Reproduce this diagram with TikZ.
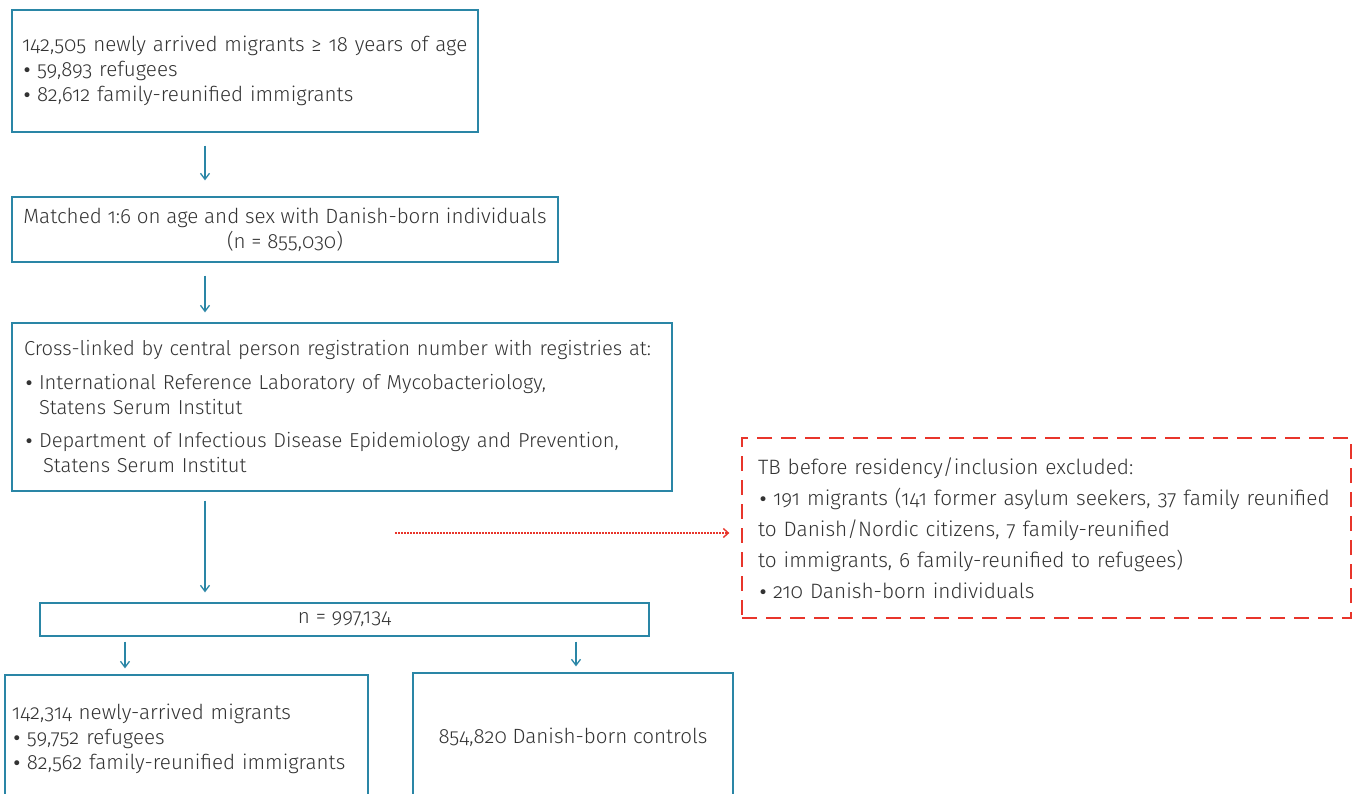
\documentclass[tikz,border=0pt]{standalone}
\usepackage{fontspec}
\setmainfont{Fira Sans Light}[Numbers=OldStyle]
\newfontfamily\djv{DejaVu Sans}
\usetikzlibrary{arrows.meta}
\definecolor{teal1}{HTML}{2A86A6}
\definecolor{red1}{HTML}{E8352B}
\definecolor{txt}{HTML}{333333}
\tikzset{
  box/.style={draw=teal1, line width=1.3pt, rectangle, text=txt, font=\fontsize{20.6}{25}\selectfont},
  redbox/.style={draw=red1, line width=1.3pt, dash pattern=on 15pt off 9pt, rectangle, text=txt, font=\fontsize{20.8}{31}\selectfont},
  arr/.style={draw=teal1, line width=1.3pt, -{Straight Barb[length=6pt,width=9pt,line width=1.3pt]}},
  redarr/.style={draw=red1, line width=1.2pt, dash pattern=on 2pt off 1pt, -{Straight Barb[length=5pt,width=9pt,line width=1.4pt]}}
}
\newcommand{\bul}{\makebox[15pt][l]{{\djv\fontsize{17}{0}\selectfont\char"2022}}}
\begin{document}
\begin{tikzpicture}[x=1pt,y=-1pt]
\useasboundingbox (0,0) rectangle (1355,794);
\clip (0,0) rectangle (1355,794);
\node[box, minimum width=466pt, minimum height=122pt, text width=446pt, inner xsep=10pt, align=left] (b1) at (245,71)
 {142,505 newly arrived migrants ≥ 18 years of age\\ \bul 59,893 refugees\\ \bul 82,612 family-reunified immigrants};
\node[box, minimum width=546pt, minimum height=65pt, align=center] (b2) at (285,229.5)
 {Matched 1:6 on age and sex with Danish-born individuals\\(n = 855,030)};
\node[box, font=\fontsize{20.2}{25}\selectfont, minimum width=660pt, minimum height=168pt, text width=636pt, inner xsep=12pt, align=left] (b3) at (342,407)
 {Cross-linked by central person registration number with registries at:\\[9pt]
  \bul International Reference Laboratory of Mycobacteriology,\\ \hspace*{15pt}Statens Serum Institut\\[8pt]
  \bul Department of Infectious Disease Epidemiology and Prevention,\\ \hspace*{19pt}Statens Serum Institut};
\node[box, minimum width=609pt, minimum height=33pt] (b4) at (344.5,619.5) {n = 997,134};
\node[box, minimum width=363pt, minimum height=128pt, text width=349pt, inner xsep=7pt, align=left] (b5) at (186.5,739)
 {142,314 newly-arrived migrants\\ \bul 59,752 refugees\\ \bul 82,562 family-reunified immigrants};
\node[box, minimum width=320pt, minimum height=128pt, align=center] (b6) at (573,737) {854,820 Danish-born controls};
\node[redbox, minimum width=609pt, minimum height=180pt, text width=577pt, inner xsep=16pt, align=left] (r) at (1046.5,528)
 {TB before residency/inclusion excluded:\\
  \bul 191 migrants (141 former asylum seekers, 37 family reunified\\
  to Danish/Nordic citizens, 7 family-reunified\\
  to immigrants, 6 family-reunified to refugees)\\
  \bul 210 Danish-born individuals};
\draw[arr, shorten <=13pt, shorten >=16pt] (205,0 |- b1.south) -- (205,0 |- b2.north);
\draw[arr, shorten <=13pt, shorten >=10pt] (205,0 |- b2.south) -- (205,0 |- b3.north);
\draw[arr, shorten <=9pt, shorten >=10pt] (205,0 |- b3.south) -- (205,0 |- b4.north);
\draw[arr, shorten <=5pt, shorten >=6pt] (125,0 |- b4.south) -- (125,0 |- b5.north);
\draw[arr, shorten <=5pt, shorten >=6pt] (576,0 |- b4.south) -- (576,0 |- b6.north);
\coordinate (rs) at (395,533);
\draw[redarr, shorten >=12pt] (rs) -- (rs -| r.west);
\end{tikzpicture}
\end{document}
